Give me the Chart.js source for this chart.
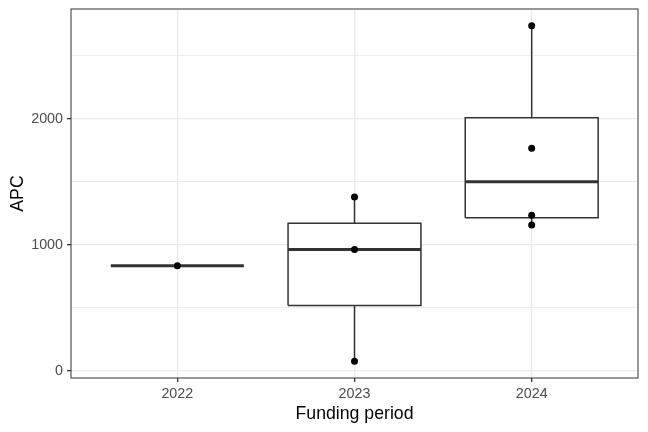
<!DOCTYPE html>
<html>
<head>
<meta charset="utf-8">
<script src="https://cdn.jsdelivr.net/npm/chart.js@4"></script>
<style>
  html, body { margin: 0; padding: 0; background: #ffffff; }
  #wrap { width: 648px; height: 432px; }
</style>
</head>
<body>
<div id="wrap"><canvas id="apcChart" width="648" height="432"></canvas></div>
<script>
// Data
const periods = ["2022", "2023", "2024"];
const apc2022 = [835];
const apc2023 = [77, 962, 1379];
const apc2024 = [1157, 1234, 1765, 2737];
const yMajorTicks = [0, 1000, 2000];
const yMinorTicks = [500, 1500, 2500];

const groups = [apc2022, apc2023, apc2024];
const boxHalf = 0.375;
const lineCol = "#333333";

// quantile, type 7 (R default)
function quantile(values, p) {
    const s = values.slice().sort((a, b) => a - b);
    const h = (s.length - 1) * p;
    const lo = Math.floor(h);
    const hi = Math.ceil(h);
    return s[lo] + (h - lo) * (s[hi] - s[lo]);
}

const datasets = [];

// Points on top
const points = [];
groups.forEach((vals, i) => {
    vals.forEach(v => points.push({ x: i + 1, y: v }));
});
datasets.push({
    data: points,
    pointRadius: 3.5,
    pointBackgroundColor: "#000000",
    pointBorderWidth: 0,
    showLine: false,
    order: 0
});

groups.forEach((vals, i) => {
    const x = i + 1;
    const q1 = quantile(vals, 0.25);
    const med = quantile(vals, 0.5);
    const q3 = quantile(vals, 0.75);
    const lo = Math.min(...vals);
    const hi = Math.max(...vals);

    // median
    datasets.push({
        data: [{ x: x - boxHalf, y: med }, { x: x + boxHalf, y: med }],
        showLine: true, borderColor: lineCol, borderWidth: 3,
        pointRadius: 0, order: 1
    });
    // box
    datasets.push({
        data: [
            { x: x - boxHalf, y: q1 }, { x: x + boxHalf, y: q1 },
            { x: x + boxHalf, y: q3 }, { x: x - boxHalf, y: q3 },
            { x: x - boxHalf, y: q1 }
        ],
        showLine: true, borderColor: lineCol, borderWidth: 1.5,
        backgroundColor: "#ffffff", fill: "shape",
        pointRadius: 0, order: 2
    });
    // whiskers
    datasets.push({
        data: [{ x: x, y: q3 }, { x: x, y: hi }],
        showLine: true, borderColor: lineCol, borderWidth: 1.5,
        pointRadius: 0, order: 3
    });
    datasets.push({
        data: [{ x: x, y: q1 }, { x: x, y: lo }],
        showLine: true, borderColor: lineCol, borderWidth: 1.5,
        pointRadius: 0, order: 3
    });
});

// ggplot-style 5% expansion
const allVals = groups.flat();
const dMin = Math.min(...allVals);
const dMax = Math.max(...allVals);
const pad = (dMax - dMin) * 0.05;

const panelBorder = {
    id: "panelBorder",
    afterDraw(chart) {
        const { ctx, chartArea: a } = chart;
        ctx.save();
        ctx.strokeStyle = lineCol;
        ctx.lineWidth = 1;
        ctx.strokeRect(a.left, a.top, a.right - a.left, a.bottom - a.top);
        ctx.restore();
    }
};

const isMajor = v => yMajorTicks.includes(v);

new Chart(document.getElementById("apcChart"), {
    type: "scatter",
    data: { datasets: datasets },
    plugins: [panelBorder],
    options: {
        responsive: false,
        animation: false,
        devicePixelRatio: 1,
        layout: { padding: { left: 0, top: 9, right: 10, bottom: 0 } },
        plugins: { legend: { display: false }, tooltip: { enabled: false } },
        scales: {
            x: {
                type: "linear",
                min: 0.4,
                max: 3.6,
                afterBuildTicks: s => { s.ticks = periods.map((p, i) => ({ value: i + 1 })); },
                afterFit: s => { s.height = 54; s.paddingLeft = 0; s.paddingRight = 0; },
                ticks: {
                    callback: v => periods[v - 1],
                    color: "#4D4D4D",
                    font: { family: "Liberation Sans", size: 14.3 },
                    padding: 3,
                    maxRotation: 0
                },
                grid: { color: "#EBEBEB", lineWidth: 1.3, tickColor: lineCol, tickLength: 4 },
                border: { display: false },
                title: {
                    display: true,
                    text: "Funding period",
                    color: "#000000",
                    font: { family: "Liberation Sans", size: 17.7, lineHeight: 1 },
                    padding: { top: 0, bottom: 9 }
                }
            },
            y: {
                min: dMin - pad,
                max: dMax + pad,
                afterBuildTicks: s => {
                    s.ticks = yMajorTicks.concat(yMinorTicks).sort((a, b) => a - b).map(v => ({ value: v }));
                },
                afterFit: s => { s.width = 71; s.paddingTop = 0; s.paddingBottom = 0; },
                ticks: {
                    callback: v => (isMajor(v) ? String(v) : ""),
                    color: "#4D4D4D",
                    font: { family: "Liberation Sans", size: 14.3 },
                    padding: 4
                },
                grid: {
                    color: "#EBEBEB",
                    lineWidth: c => (c.tick && isMajor(c.tick.value) ? 1.3 : 0.9),
                    tickColor: c => (c.tick && isMajor(c.tick.value) ? lineCol : "rgba(0,0,0,0)"),
                    tickLength: 4
                },
                border: { display: false },
                title: {
                    display: true,
                    text: "APC",
                    color: "#000000",
                    font: { family: "Liberation Sans", size: 17.7, lineHeight: 1 },
                    padding: { top: 9, bottom: 0 }
                }
            }
        }
    }
});
</script>
</body>
</html>
